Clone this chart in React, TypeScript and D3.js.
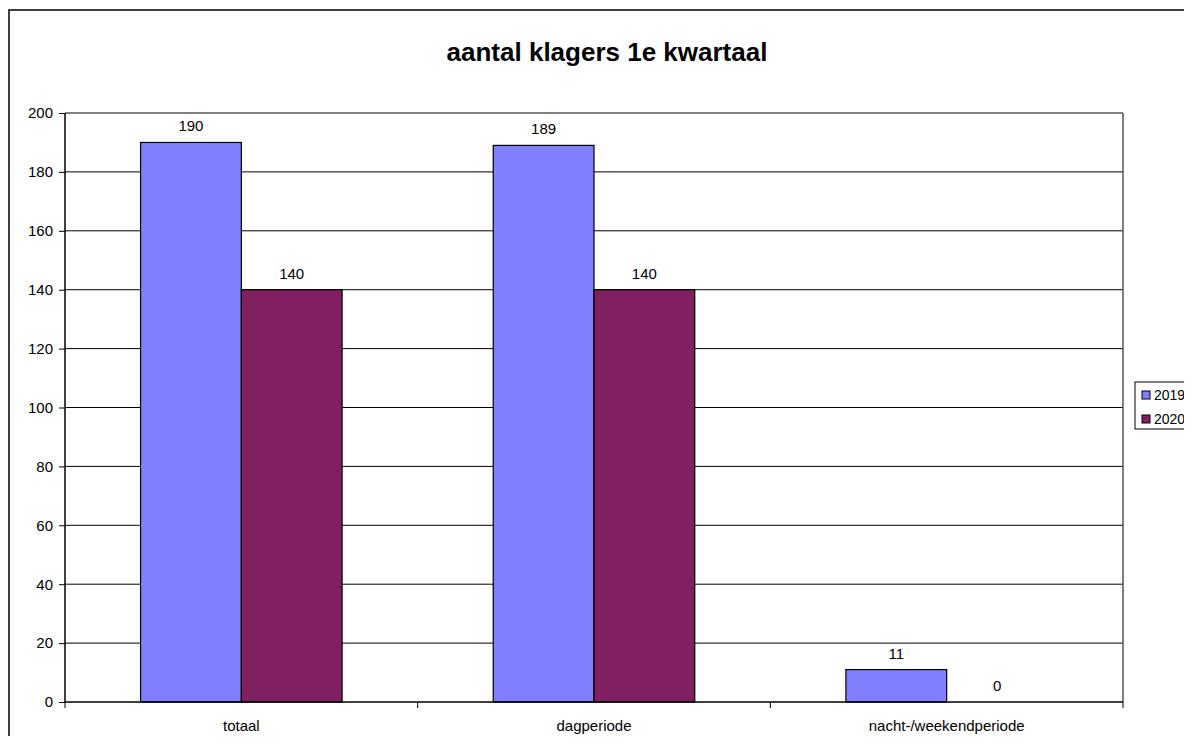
import { useEffect, useRef } from 'react';
import * as d3 from 'd3';

const categories = ['totaal', 'dagperiode', 'nacht-/weekendperiode'];
const seriesNames = ['2019', '2020'];
const values2019 = [190, 189, 11];
const values2020 = [140, 140, 0];
const yTicks = [0, 20, 40, 60, 80, 100, 120, 140, 160, 180, 200];
const colors = ['#8080FF', '#802060'];

const WIDTH = 1192;
const HEIGHT = 744;
const FONT = 'Liberation Sans, Arial, sans-serif';

export default function App() {
  const svgRef = useRef<SVGSVGElement>(null);

  useEffect(() => {
    const svg = d3.select(svgRef.current);
    svg.selectAll('*').remove();

    const plot = { left: 65, top: 113, right: 1123, bottom: 702 };

    // outer chart frame (runs off the right/bottom edge)
    svg
      .append('rect')
      .attr('x', 9)
      .attr('y', 10)
      .attr('width', 1194)
      .attr('height', 760)
      .attr('fill', '#fff')
      .attr('stroke', '#000')
      .attr('stroke-width', 1.5);

    svg
      .append('text')
      .attr('x', 607)
      .attr('y', 61)
      .attr('text-anchor', 'middle')
      .attr('font-family', FONT)
      .attr('font-size', 26)
      .attr('font-weight', 'bold')
      .text('aantal klagers 1e kwartaal');

    const x = d3.scaleBand().domain(categories).range([plot.left, plot.right]);
    const barW = x.bandwidth() / 3.5;
    const y = d3.scaleLinear().domain([0, 200]).range([plot.bottom, plot.top]);

    // gridlines
    svg
      .append('g')
      .selectAll('line')
      .data(yTicks.filter((t) => t > 0))
      .enter()
      .append('line')
      .attr('x1', plot.left)
      .attr('x2', plot.right)
      .attr('y1', (d) => y(d))
      .attr('y2', (d) => y(d))
      .attr('stroke', '#000')
      .attr('stroke-width', 1);

    // right border of plot
    svg
      .append('line')
      .attr('x1', plot.right)
      .attr('x2', plot.right)
      .attr('y1', plot.top)
      .attr('y2', plot.bottom)
      .attr('stroke', '#555')
      .attr('stroke-width', 1.5);

    const series = [values2019, values2020];
    series.forEach((vals, si) => {
      const g = svg.append('g');
      g.selectAll('rect')
        .data(vals)
        .enter()
        .append('rect')
        .attr('x', (_, i) => x(categories[i])! + x.bandwidth() / 2 - barW + si * barW)
        .attr('y', (d) => y(d))
        .attr('width', barW)
        .attr('height', (d) => y(0) - y(d))
        .attr('fill', colors[si])
        .attr('stroke', (d) => (d > 0 ? '#000' : 'none'))
        .attr('stroke-width', 1.2);
      g.selectAll('text')
        .data(vals)
        .enter()
        .append('text')
        .attr('x', (_, i) => x(categories[i])! + x.bandwidth() / 2 - barW / 2 + si * barW)
        .attr('y', (d) => y(d) - 11)
        .attr('text-anchor', 'middle')
        .attr('font-family', FONT)
        .attr('font-size', 15)
        .text((d) => d);
    });

    // y axis
    svg
      .append('g')
      .attr('transform', `translate(${plot.left},0)`)
      .call(d3.axisLeft(y).tickValues(yTicks).tickSize(6).tickPadding(6))
      .call((g) => {
        g.select('.domain').attr('stroke', '#000').attr('stroke-width', 1.5).attr('d', `M0,${plot.top}V${plot.bottom}`);
        g.selectAll('.tick line').attr('stroke', '#000');
        g.selectAll('.tick text').attr('font-family', FONT).attr('font-size', 15).attr('fill', '#000');
      });

    // x axis
    svg
      .append('g')
      .attr('transform', `translate(0,${plot.bottom})`)
      .call(d3.axisBottom(x).tickSize(0).tickPadding(18))
      .call((g) => {
        g.select('.domain').attr('stroke', '#000').attr('stroke-width', 1.5).attr('d', `M${plot.left},0H${plot.right}`);
        g.selectAll('.tick text').attr('font-family', FONT).attr('font-size', 15).attr('fill', '#000');
        const bounds = [...categories.map((c) => x(c)!), plot.right];
        g.selectAll('.sep')
          .data(bounds)
          .enter()
          .append('line')
          .attr('x1', (d) => d)
          .attr('x2', (d) => d)
          .attr('y1', 0)
          .attr('y2', 6)
          .attr('stroke', '#000');
      });

    // legend
    const legend = svg.append('g');
    legend
      .append('rect')
      .attr('x', 1135)
      .attr('y', 382)
      .attr('width', 80)
      .attr('height', 47)
      .attr('fill', '#fff')
      .attr('stroke', '#000')
      .attr('stroke-width', 1);
    seriesNames.forEach((name, i) => {
      legend
        .append('rect')
        .attr('x', 1142)
        .attr('y', 391 + i * 24)
        .attr('width', 8)
        .attr('height', 8)
        .attr('fill', colors[i])
        .attr('stroke', '#000')
        .attr('stroke-width', 1);
      legend
        .append('text')
        .attr('x', 1154)
        .attr('y', 400 + i * 24)
        .attr('font-family', FONT)
        .attr('font-size', 14)
        .text(name);
    });
  }, []);

  return <svg ref={svgRef} width={WIDTH} height={HEIGHT} style={{ display: 'block', margin: -8 }} />;
}
